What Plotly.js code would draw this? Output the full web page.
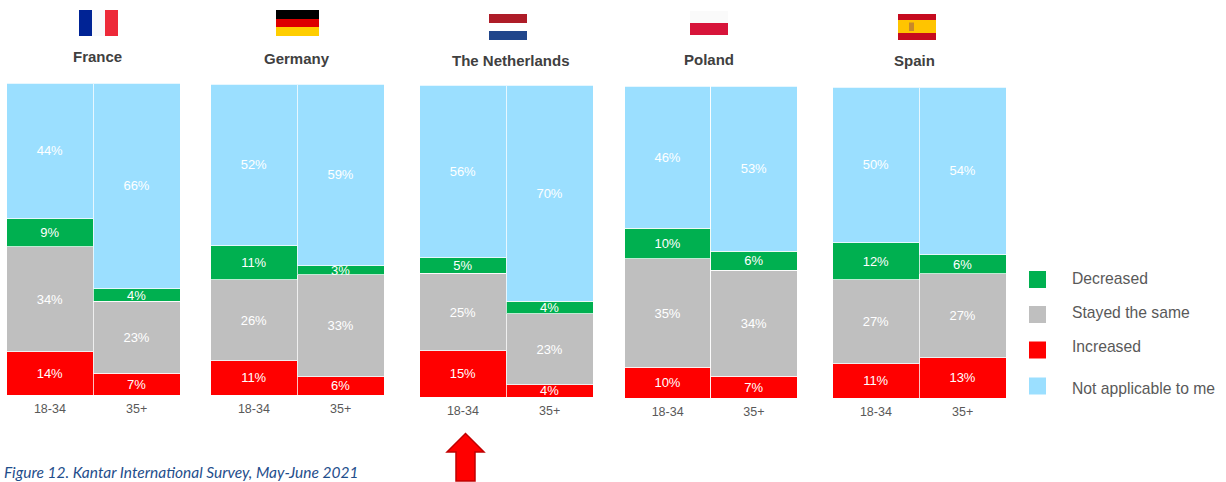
<!DOCTYPE html>
<html>
<head>
<meta charset="utf-8">
<script src="https://cdn.plot.ly/plotly-3.0.1.min.js"></script>
<style>html,body{margin:0;padding:0;background:#fff}#chart{width:1226px;height:482px}</style>
</head>
<body>
<div id="chart"></div>
<script>
// Survey responses by country and age group, in percent
const ageGroups = ['18-34', '35+'];
const countries = ['France', 'Germany', 'The Netherlands', 'Poland', 'Spain'];
const increased = [[14, 7], [11, 6], [15, 4], [10, 7], [11, 13]];
const stayedSame = [[34, 23], [26, 33], [25, 23], [35, 34], [27, 27]];
const decreased = [[9, 4], [11, 3], [5, 4], [10, 6], [12, 6]];
const notApplicable = [[44, 66], [52, 59], [56, 70], [46, 53], [50, 54]];

const seriesNames = ['Increased', 'Stayed the same', 'Decreased', 'Not applicable to me'];
const seriesValues = [increased, stayedSame, decreased, notApplicable];
const seriesColors = ['#ff0000', '#bfbfbf', '#00b050', '#9bdfff'];

// Page geometry in pixels
const W = 1226, H = 482;
const fx = p => p / W;
const fy = p => 1 - p / H;
const panels = [
  {l: 6.5, r: 180, t: 83, b: 395, titleY: 56.5, titleX: 97},
  {l: 210.5, r: 384, t: 84, b: 395, titleY: 58.5, titleX: 296.5},
  {l: 419.5, r: 593, t: 85, b: 397, titleY: 60.5, titleX: 511},
  {l: 624.5, r: 797, t: 86, b: 398, titleY: 59.5, titleX: 709},
  {l: 832.5, r: 1006, t: 87, b: 398, titleY: 60.5, titleX: 914}
];

const font = '"Liberation Sans", Arial, sans-serif';
const traces = [];
const layout = {
  width: W, height: H,
  margin: {l: 0, r: 0, t: 0, b: 0},
  paper_bgcolor: '#ffffff', plot_bgcolor: '#ffffff',
  barmode: 'stack', barnorm: 'percent', bargap: 0,
  showlegend: false,
  font: {family: font},
  shapes: [], annotations: []
};

// One stacked panel per country, on its own pair of axes
panels.forEach((p, i) => {
  const suffix = i === 0 ? '' : String(i + 1);
  seriesNames.forEach((name, s) => {
    const vals = seriesValues[s][i];
    traces.push({
      type: 'bar', name: name,
      x: ageGroups, y: vals,
      xaxis: 'x' + suffix, yaxis: 'y' + suffix,
      text: vals.map(v => v + '%'),
      textposition: 'inside', insidetextanchor: 'middle',
      constraintext: 'none', textangle: 0,
      textfont: {family: font, size: 13, color: '#ffffff'},
      marker: {color: seriesColors[s], line: {color: 'rgba(255,255,255,0.75)', width: 1}},
      hoverinfo: 'skip'
    });
  });
  layout['xaxis' + suffix] = {
    type: 'category', domain: [fx(p.l), fx(p.r)], anchor: 'y' + suffix,
    range: [-0.5, 1.5], showgrid: false, zeroline: false, showline: false,
    ticks: 'outside', ticklen: 2, tickcolor: 'rgba(0,0,0,0)', tickwidth: 0,
    tickfont: {family: font, size: 12.5, color: '#595959'}
  };
  layout['yaxis' + suffix] = {
    domain: [fy(p.b), fy(p.t)], anchor: 'x' + suffix,
    range: [0, 100], visible: false
  };
  layout.annotations.push({
    xref: 'paper', yref: 'paper', x: fx(p.titleX), y: fy(p.titleY),
    xanchor: 'center', yanchor: 'middle', showarrow: false,
    text: '<b>' + countries[i] + '</b>',
    font: {family: font, size: 15, color: '#404040'}
  });
});

// Flags are drawn as plain rectangles above each country name
const flagBand = (x0, x1, y0, y1, color) => layout.shapes.push({
  type: 'rect', xref: 'paper', yref: 'paper',
  x0: fx(x0), x1: fx(x1), y0: fy(y1), y1: fy(y0),
  fillcolor: color, line: {width: 0}, layer: 'above'
});
flagBand(79, 92, 10, 36, '#002395');
flagBand(92, 105, 10, 36, '#f9f9fb');
flagBand(105, 118, 10, 36, '#ed2939');
flagBand(276, 319, 10, 19, '#000000');
flagBand(276, 319, 19, 27, '#dd0000');
flagBand(276, 319, 27, 36, '#ffce00');
flagBand(489, 527, 14, 23, '#ae1c28');
flagBand(489, 527, 31, 40, '#21468b');
flagBand(690, 728, 11, 23, '#fafafa');
flagBand(690, 728, 23, 35, '#d7143a');
flagBand(898, 936, 14, 20, '#c60b1e');
flagBand(898, 936, 20, 33, '#ffc400');
flagBand(898, 936, 33, 40, '#c60b1e');
flagBand(909, 914, 22.5, 31, '#c8892a');

// Legend keys and labels
const legendOrder = [2, 1, 0, 3];
const legendRows = [278.5, 312.5, 346.5, 388];
const legendKeyRows = [279.5, 314.5, 350, 386];
legendOrder.forEach((s, row) => {
  const c = legendKeyRows[row];
  flagBand(1029, 1046, c - 8.5, c + 8.5, seriesColors[s]);
  layout.annotations.push({
    xref: 'paper', yref: 'paper', x: fx(1070), y: fy(legendRows[row]),
    xanchor: 'left', yanchor: 'middle', showarrow: false,
    text: seriesNames[s],
    font: {family: font, size: 15.7, color: '#595959'}
  });
});

// Arrow below the Dutch 18-34 bar
const pt = (x, y) => fx(x).toFixed(5) + ',' + fy(y).toFixed(5);
layout.shapes.push({
  type: 'path', xref: 'paper', yref: 'paper',
  path: 'M' + pt(465.5, 433.5) + ' L' + pt(484, 452) + ' L' + pt(475, 452) + ' L' + pt(475, 481) +
        ' L' + pt(456, 481) + ' L' + pt(456, 452) + ' L' + pt(447, 452) + ' Z',
  fillcolor: '#ff0000', line: {color: '#c00000', width: 1.5}
});

// Source note
layout.annotations.push({
  xref: 'paper', yref: 'paper', x: fx(2), y: 0, yshift: -1,
  xanchor: 'left', yanchor: 'bottom', showarrow: false,
  text: '<i>Figure 12. Kantar International Survey, May-June 2021</i>',
  font: {family: 'Lato, "Noto Sans", sans-serif', size: 15.5, color: '#1f4e8c'}
});

Plotly.newPlot('chart', traces, layout, {displayModeBar: false, staticPlot: true});
</script>
</body>
</html>
